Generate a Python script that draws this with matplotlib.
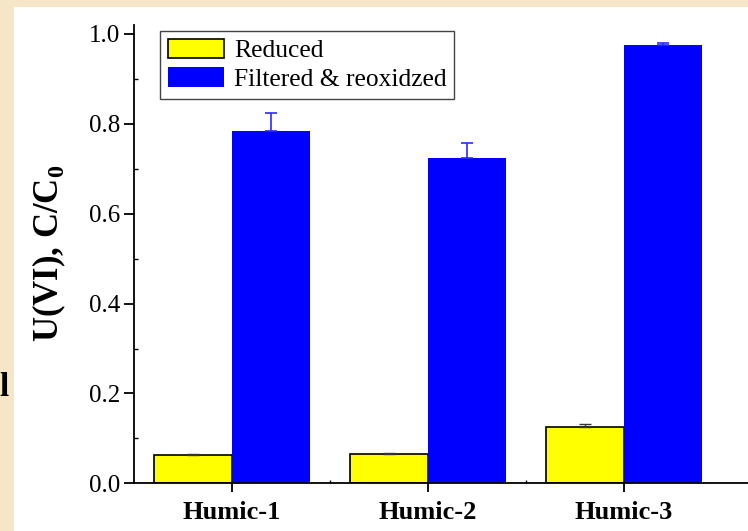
import numpy as np
import matplotlib.pyplot as plt
from matplotlib.patches import Rectangle
from matplotlib.ticker import MultipleLocator, FixedLocator

plt.rcParams['font.family'] = ['Liberation Serif', 'DejaVu Serif']
plt.rcParams['mathtext.fontset'] = 'custom'
plt.rcParams['mathtext.rm'] = 'Liberation Serif'
plt.rcParams['mathtext.bf'] = 'Liberation Serif:bold'

samples = ['Humic-1', 'Humic-2', 'Humic-3']
reduced = [0.063, 0.065, 0.126]
reduced_err = [0.003, 0.002, 0.007]
reoxidized = [0.785, 0.724, 0.976]
reoxidized_err = [0.039, 0.033, 0.005]

W, H = 748, 531
fig = plt.figure(figsize=(W / 100, H / 100), dpi=100)
fig.patch.set_facecolor('#f5e6c8')
fig.patches.append(Rectangle((14 / W, 0), (W - 14) / W, (H - 7) / H,
                             transform=fig.transFigure, facecolor='white',
                             edgecolor='none', zorder=-5))
# stray glyph left over on the slide edge
fig.text(9 / W, 1 - 388 / H, 'l', fontsize=24, fontweight='bold',
         ha='right', va='center')

ax = fig.add_axes([134 / W, 47.7 / H, 627.2 / W, 458.3 / H])
ax.set_facecolor('none')
ax.set_zorder(2)

x = np.arange(1, len(samples) + 1)
w = 0.4
ax.bar(x - w, reduced, w, align='edge', color='#ffff00', edgecolor='black',
       linewidth=1.2, label='Reduced', zorder=2)
ax.bar(x, reoxidized, w, align='edge', color='#0000ff', edgecolor='#0000ff',
       linewidth=0, label='Filtered & reoxidzed', zorder=2)
ax.errorbar(x - w / 2, reduced, yerr=[np.zeros(3), reduced_err], fmt='none',
            ecolor='#333333', elinewidth=1, capsize=4, capthick=1, zorder=3)
ax.errorbar(x + w / 2, reoxidized, yerr=[np.zeros(3), reoxidized_err], fmt='none',
            ecolor='#2a2aff', elinewidth=1.2, capsize=4, capthick=1.2, zorder=3)

ax.set_xlim(0.5, 3.7)
ax.set_ylim(0, 1.02)
for s in ['top', 'right']:
    ax.spines[s].set_visible(False)
for s in ['left', 'bottom']:
    ax.spines[s].set_linewidth(1.3)

ax.yaxis.set_major_locator(MultipleLocator(0.2))
ax.yaxis.set_minor_locator(MultipleLocator(0.1))
ax.yaxis.set_major_formatter(plt.FuncFormatter(lambda v, p: f'{v:.1f}'))
ax.tick_params(axis='y', which='major', direction='out', length=7, width=1.3,
               labelsize=18, pad=3)
ax.tick_params(axis='y', which='minor', direction='in', length=3, width=1)

ax.set_xticks(x)
ax.set_xticklabels(samples, fontweight='bold', fontsize=19)
ax.xaxis.set_minor_locator(FixedLocator([1.5, 2.5]))
ax.tick_params(axis='x', which='major', direction='out', length=6.5, width=1.3, pad=6)
ax.tick_params(axis='x', which='minor', direction='in', length=2, width=1)

ax.set_ylabel('U(VI), C/C$_\\mathbf{0}$', fontsize=25, fontweight='bold')
ax.yaxis.set_label_coords(-(134 - 68) / 627.2, (531 - 253 - 47.7) / 458.3)

leg = ax.legend(loc='upper left', bbox_to_anchor=(160 / W, 1 - 31 / H),
                bbox_transform=fig.transFigure, fontsize=18.4, frameon=True,
                fancybox=False, framealpha=1, edgecolor='#444444',
                handlelength=2.2, handleheight=0.8, handletextpad=0.4,
                borderpad=0.3, labelspacing=0.2, borderaxespad=0)
leg.get_frame().set_linewidth(1.0)

fig.savefig('out.png', dpi=100, facecolor=fig.get_facecolor())
